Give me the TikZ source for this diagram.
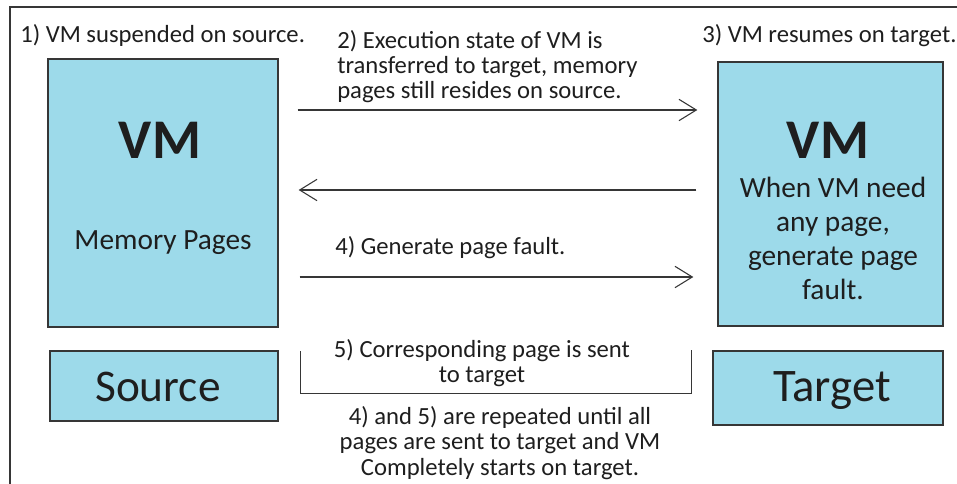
\documentclass[tikz,border=0pt]{standalone}
\usepackage{fontspec}
\setmainfont{Carlito}
\usetikzlibrary{arrows.meta,positioning,calc}
\definecolor{boxfill}{HTML}{9DDAEA}
\definecolor{ink}{HTML}{1E1E1E}
\definecolor{rule}{HTML}{363636}
\tikzset{host/.style={draw=rule,line width=1pt,fill=boxfill,inner sep=0pt},
  label/.style={inner sep=0pt,text=ink,anchor=base},
  note/.style={inner sep=0pt,text=ink,anchor=base west,font=\fontsize{18.5}{19}\selectfont},
  flow/.style={draw=rule,line width=1.1pt,-{Straight Barb[length=13pt,width=16pt,line width=0.8pt]}},
  edge/.style={draw=rule,line width=1.1pt}}

\begin{document}
\begin{tikzpicture}[x=0.75pt,y=-0.75pt]
\useasboundingbox (0,0) rectangle (957,484);
\clip (0,0) rectangle (957,484);
% Outer frame, running past the right and bottom edges.
\draw[rule,line width=1.5pt] (10,7) rectangle (975,500);
% The two hosts and their VMs.
\node[host,minimum width=172.5pt,minimum height=201pt] (srcvm) at (163,193) {};
\node[host,minimum width=171pt,minimum height=52.5pt] (src) at (164,386) {};
\node[host,minimum width=168.75pt,minimum height=198pt] (tgtvm) at (830.5,194) {};
\node[host,minimum width=172.5pt,minimum height=55.5pt] (tgt) at (828,388) {};
\node[label,font=\fontsize{42}{42}\bfseries] (srcvmlab) at (160,159) {VM};
\node[label,font=\fontsize{22}{22}\selectfont] (pages) at (163,250) {Memory Pages};
\node[label,font=\fontsize{34}{34}\selectfont] (srclab) at (158,402) {Source};
\node[label,font=\fontsize{42}{42}\bfseries] (tgtvmlab) at (828,159) {VM};
% Multi-line labels sit on the baseline of their last line.
\node[label,font=\fontsize{22}{25.5}\selectfont,align=center] (need) at (833,300) {When VM need\\any page,\\generate page\\fault.};
\node[label,font=\fontsize{35}{35}\selectfont] (tgtlab) at (832,402) {Target};
% Steps above the hosts.
\node[note] (step1) at (20,43) {1) VM suspended on source.};
\node[note,align=left] (step2) at (337,99) {2) Execution state of VM is\\transferred to target, memory\\pages still resides on source.};
\node[note] (step3) at (702,43) {3) VM resumes on target.};
% Transfers between the VMs.
\draw[flow] ($(srcvm.east)+(19,-83)$) -- ($(srcvm.east -| tgtvm.west)+(-20,-83)$);
\draw[flow] ($(tgtvm.west)+(-21,-4)$) -- ($(tgtvm.west -| srcvm.east)+(20,-4)$);
\node[note] (step4) at (335,255) {4) Generate page fault.};
\draw[flow] ($(srcvm.east)+(21,84)$) -- ($(srcvm.east -| tgtvm.west)+(-24,84)$);
% Page sent back, bracketed under the hosts' gap.
\draw[edge] ($(src.north east)+(22,1)$) |- ($(tgt.north west)+(-21,43)$) -- ($(tgt.north west)+(-21,0)$);
\node[note,anchor=base,align=center] (step5) at (482,383) {5) Corresponding page is sent\\to target};
\node[note,anchor=base,align=center] (repeat) at (500,475) {4) and 5) are repeated until all\\pages are sent to target and VM\\Completely starts on target.};
\end{tikzpicture}
\end{document}
